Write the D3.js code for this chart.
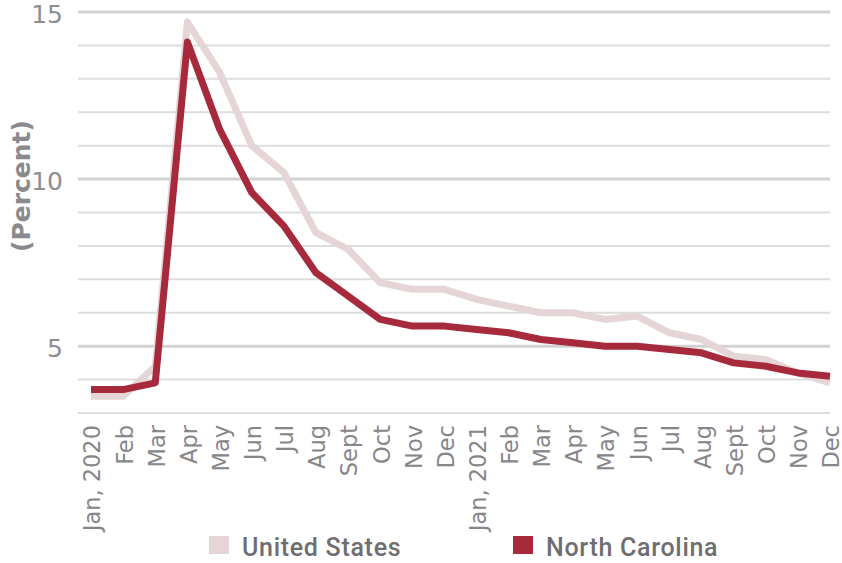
<!DOCTYPE html>
<html>
<head>
<meta charset="utf-8">
<script src="https://cdn.jsdelivr.net/npm/d3@7"></script>
<style>
  body { margin: 0; background: #fff; }
  svg { display: block; }
</style>
</head>
<body>
<div id="chart"></div>
<script>
// month labels on the x axis
const months = [
  "Jan, 2020", "Feb", "Mar", "Apr", "May", "Jun", "Jul", "Aug", "Sept", "Oct", "Nov", "Dec",
  "Jan, 2021", "Feb ", "Mar ", "Apr ", "May ", "Jun ", "Jul ", "Aug ", "Sept ", "Oct ", "Nov ", "Dec "
];
const usValues = [3.5, 3.5, 4.4, 14.7, 13.2, 11.0, 10.2, 8.4, 7.9, 6.9, 6.7, 6.7,
  6.4, 6.2, 6.0, 6.0, 5.8, 5.9, 5.4, 5.2, 4.7, 4.6, 4.2, 3.9];
const ncValues = [3.7, 3.7, 3.9, 14.1, 11.5, 9.6, 8.6, 7.2, 6.5, 5.8, 5.6, 5.6,
  5.5, 5.4, 5.2, 5.1, 5.0, 5.0, 4.9, 4.8, 4.5, 4.4, 4.2, 4.1];
const yTicks = [5, 10, 15];
const seriesNames = ["United States", "North Carolina"];

const width = 842;
const height = 563;
const svg = d3.select("#chart").append("svg")
  .attr("width", width)
  .attr("height", height);

const x = d3.scalePoint().domain(months).range([91, 830]);
const y = d3.scaleLinear().domain([3, 15]).range([413, 12]);

const Color = d3.scaleOrdinal().domain(seriesNames).range(["#e5d5d6", "#a62a3b"]);

// gridlines
const grid = svg.append("g");
grid.selectAll("line")
  .data(d3.range(3, 16))
  .enter()
  .append("line")
  .attr("x1", 78)
  .attr("x2", 830)
  .attr("y1", d => y(d))
  .attr("y2", d => y(d))
  .attr("stroke", d => d % 5 === 0 ? "#d2d2d2" : "#dddddd")
  .attr("stroke-width", d => d % 5 === 0 ? 3 : 2);

// y axis labels
const yAxis = svg.append("g")
  .attr("transform", "translate(63,2)")
  .call(d3.axisLeft(y).tickValues(yTicks).tickSize(0).tickPadding(0));
yAxis.select(".domain").remove();
yAxis.selectAll("text")
  .attr("font-family", "'DejaVu Sans', sans-serif")
  .attr("font-size", 25)
  .attr("fill", "#8e8e92");

svg.append("text")
  .attr("transform", "translate(30,186) rotate(-90)")
  .attr("text-anchor", "middle")
  .attr("font-family", "'DejaVu Sans', sans-serif")
  .attr("font-weight", "bold")
  .attr("font-size", 25)
  .attr("fill", "#8a8a8e")
  .text("(Percent)");

// x axis labels
const xAxis = svg.append("g")
  .attr("transform", "translate(1,425)")
  .call(d3.axisBottom(x).tickSize(0).tickPadding(0));
xAxis.select(".domain").remove();
xAxis.selectAll("text")
  .attr("font-family", "'DejaVu Sans', sans-serif")
  .attr("font-size", 22.5)
  .attr("fill", "#86868a")
  .attr("text-anchor", "end")
  .attr("dy", "0.35em")
  .attr("transform", "rotate(-90)")
  .attr("x", 0)
  .attr("y", 0);

// lines
const line = d3.line()
  .x((d, i) => x(months[i]))
  .y(d => y(d));

const series = [
  { name: "United States", values: usValues },
  { name: "North Carolina", values: ncValues }
];

svg.append("g")
  .selectAll("path")
  .data(series)
  .enter()
  .append("path")
  .attr("d", d => line(d.values))
  .attr("fill", "none")
  .attr("stroke", d => Color(d.name))
  .attr("stroke-width", 7)
  .attr("stroke-linejoin", "round");

// legend
const legendX = [209, 513];
const legend = svg.append("g")
  .selectAll("g")
  .data(seriesNames)
  .enter()
  .append("g")
  .attr("transform", (d, i) => "translate(" + legendX[i] + ",536)");

legend.append("rect")
  .attr("width", 20)
  .attr("height", 18)
  .attr("fill", d => Color(d));

legend.append("text")
  .attr("x", 33)
  .attr("y", 20)
  .attr("font-family", "Roboto, sans-serif")
  .attr("font-weight", 500)
  .attr("font-size", 25)
  .attr("letter-spacing", 0.7)
  .attr("fill", "#6e6e72")
  .text(d => d);
</script>
</body>
</html>
